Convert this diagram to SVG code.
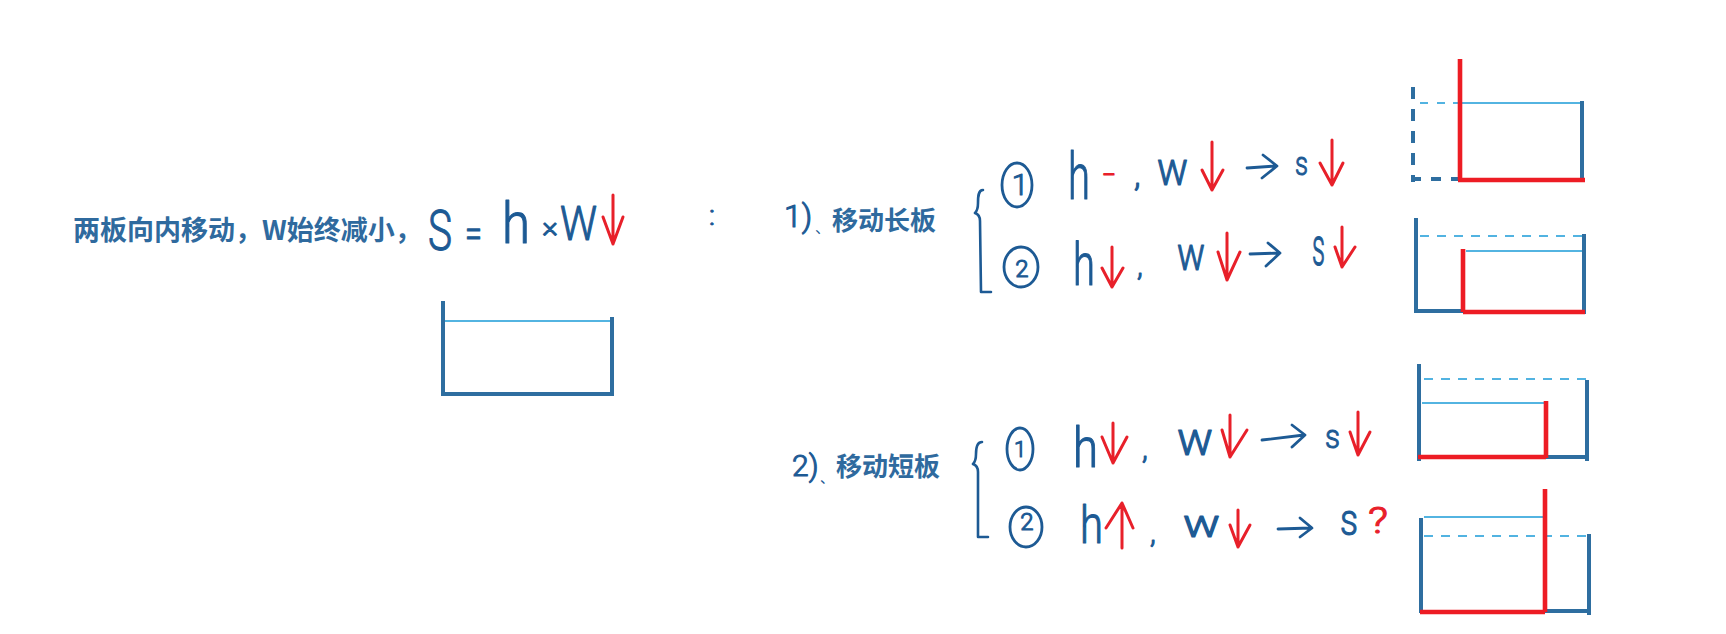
<svg xmlns="http://www.w3.org/2000/svg" width="1726" height="634" viewBox="0 0 1726 634">
<style>
.bold{font-family:"Noto Sans CJK SC","Noto Sans",sans-serif;font-weight:700;fill:#2f6a9e}
.hw{font-family:Roboto,"Open Sans","DejaVu Sans",sans-serif;font-weight:300;fill:#1d5a94;stroke:#1d5a94;stroke-width:1.1;stroke-linejoin:round}
.hwr{font-family:Roboto,"Open Sans","DejaVu Sans",sans-serif;font-weight:300;fill:#e8202a;stroke:#e8202a;stroke-width:1.1;stroke-linejoin:round}
.cjk{font-family:"Noto Sans CJK SC",sans-serif;font-weight:400;fill:#1d5a94}
.circ{fill:none;stroke:#1d5a94;stroke-width:2.8}
.rarr{fill:none;stroke:#e8202a;stroke-width:3;stroke-linecap:round;stroke-linejoin:round}
.barr{fill:none;stroke:#1d5a94;stroke-width:2.8;stroke-linecap:round;stroke-linejoin:round}
.wall{stroke:#2e6ea0;stroke-width:4;fill:none}
.red{stroke:#ed1c24;stroke-width:4.6;fill:none}
.water{stroke:#1a9bd7;stroke-width:1.5;fill:none}
.wdash{stroke:#1a9bd7;stroke-width:1.5;fill:none;stroke-dasharray:9 8}
.brace{fill:none;stroke:#1d5a94;stroke-width:2.6;stroke-linecap:round;stroke-linejoin:round}
</style>
<rect width="1726" height="634" fill="#ffffff"/>

<g id="title">
<text class="bold" x="73" y="240" font-size="27">两板向内移动，W始终减小，</text>
<text class="hw" x="428" y="250" font-size="56" textLength="24" lengthAdjust="spacingAndGlyphs">S</text>
<text class="hw" x="465" y="247" font-size="40" textLength="17" lengthAdjust="spacingAndGlyphs">=</text>
<text class="hw" x="502" y="243" font-size="58" textLength="28" lengthAdjust="spacingAndGlyphs">h</text>
<text class="hw" x="542" y="237" font-size="30" textLength="16" lengthAdjust="spacingAndGlyphs">×</text>
<text class="hw" x="560" y="240" font-size="49" textLength="37" lengthAdjust="spacingAndGlyphs">W</text>
<text class="hw" x="709" y="225" font-size="28">:</text>
</g>

<g id="main-container">
<line class="water" x1="445" y1="321" x2="610" y2="321"/>
<path class="wall" d="M443 301 L443 394 L612 394 L612 317"/>
</g>

<g id="label-long">
<text class="hw" x="784" y="227" font-size="32">1)</text>
<text class="cjk" x="815" y="233" font-size="15">、</text>
<text class="bold" x="832" y="230" font-size="26">移动长板</text>
<path class="brace" d="M983 190 C978 190 978 197 978 203 C978 209 977 211 975 213 C978 214 980 216 980 221 L981 292 L991 292"/>
</g>

<g id="label-short">
<text class="hw" x="792" y="476" font-size="30">2)</text>
<text class="cjk" x="820" y="483" font-size="14">、</text>
<text class="bold" x="836" y="476" font-size="26">移动短板</text>
<path class="brace" d="M982 442 C977 442 976 448 976 454 C976 460 975 462 973 464 C976 465 978 467 978 472 L978 537 L988 537"/>
</g>

<g id="row1">
<ellipse class="circ" cx="1017" cy="185" rx="15" ry="22"/>
<text class="hw" x="1020" y="195" font-size="30" text-anchor="middle">1</text>
<text class="hw" x="1068" y="199" font-size="64" textLength="22" lengthAdjust="spacingAndGlyphs">h</text>
<text class="hwr" x="1103" y="184" font-size="30" textLength="12" lengthAdjust="spacingAndGlyphs">-</text>
<text class="hw" x="1134" y="186" font-size="34">,</text>
<text class="hw" x="1157" y="185" font-size="47" textLength="31" lengthAdjust="spacingAndGlyphs">w</text>
<text class="hw" x="1295" y="175" font-size="34" textLength="13" lengthAdjust="spacingAndGlyphs">s</text>
</g>

<g id="row2">
<ellipse class="circ" cx="1021" cy="267" rx="17" ry="20"/>
<text class="hw" x="1022" y="277" font-size="24" text-anchor="middle">2</text>
<text class="hw" x="1073" y="285" font-size="59" textLength="22" lengthAdjust="spacingAndGlyphs">h</text>
<text class="hw" x="1137" y="276" font-size="30">,</text>
<text class="hw" x="1177" y="270" font-size="47" textLength="28" lengthAdjust="spacingAndGlyphs">w</text>
<text class="hw" x="1312" y="265" font-size="51" textLength="13" lengthAdjust="spacingAndGlyphs">s</text>
</g>

<g id="row3">
<ellipse class="circ" cx="1020" cy="449" rx="13" ry="21"/>
<text class="hw" x="1020" y="457" font-size="22" text-anchor="middle">1</text>
<text class="hw" x="1073" y="467" font-size="55" textLength="25" lengthAdjust="spacingAndGlyphs">h</text>
<text class="hw" x="1142" y="459" font-size="30">,</text>
<text class="hw" x="1177" y="455" font-size="47" textLength="36" lengthAdjust="spacingAndGlyphs">w</text>
<text class="hw" x="1325" y="448" font-size="34" textLength="15" lengthAdjust="spacingAndGlyphs">s</text>
</g>

<g id="row4">
<ellipse class="circ" cx="1026" cy="527" rx="16" ry="20"/>
<text class="hw" x="1027" y="530" font-size="24" text-anchor="middle">2</text>
<text class="hw" x="1080" y="543" font-size="51" textLength="23" lengthAdjust="spacingAndGlyphs">h</text>
<text class="hw" x="1150" y="543" font-size="30">,</text>
<text class="hw" x="1183" y="537" font-size="38" textLength="37" lengthAdjust="spacingAndGlyphs">w</text>
<text class="hw" x="1340" y="535" font-size="44" textLength="18" lengthAdjust="spacingAndGlyphs">s</text>
<text class="hwr" x="1368" y="533" font-size="37" textLength="20" lengthAdjust="spacingAndGlyphs">?</text>
</g>

<g id="connectors">
<path class="rarr" d="M613 195 L613 244 M603 217 L613 244 L623 217"/>
<path class="rarr" d="M1212 142 L1212 190 M1202 170 L1212 190 L1223 170"/>
<path class="rarr" d="M1332 140 L1332 185 M1320 163 L1332 185 L1343 163"/>
<path class="rarr" d="M1112 247 L1112 287 M1102 268 L1112 287 L1123 268"/>
<path class="rarr" d="M1227 233 L1227 280 M1218 252 L1227 280 L1240 252"/>
<path class="rarr" d="M1342 227 L1342 267 M1335 247 L1342 267 L1355 247"/>
<path class="rarr" d="M1113 423 L1113 463 M1102 437 L1113 463 L1127 437"/>
<path class="rarr" d="M1230 415 L1230 457 M1222 430 L1230 457 L1247 430"/>
<path class="rarr" d="M1358 412 L1358 455 M1350 432 L1358 455 L1370 432"/>
<path class="rarr" d="M1122 548 L1122 503 M1106 528 L1122 503 L1133 528"/>
<path class="rarr" d="M1238 510 L1238 547 M1230 525 L1238 547 L1250 525"/>
<path class="barr" d="M1247 168 L1276 166 M1263 155 L1277 166 L1262 178"/>
<path class="barr" d="M1250 254 L1279 253 M1268 243 L1280 253 L1266 266"/>
<path class="barr" d="M1262 440 L1304 435 M1292 425 L1305 435 L1292 447"/>
<path class="barr" d="M1278 529 L1311 528 M1300 518 L1312 528 L1300 537"/>
</g>

<g id="fig1">
<line class="wall" x1="1413" y1="87" x2="1413" y2="182" stroke-dasharray="12 10"/>
<line class="wall" x1="1411" y1="179" x2="1460" y2="179" stroke-dasharray="10 10"/>
<line class="water" x1="1420" y1="103" x2="1447" y2="103" stroke-dasharray="8 9"/>
<line class="water" x1="1453" y1="103" x2="1582" y2="103"/>
<line class="wall" x1="1582" y1="101" x2="1582" y2="181"/>
<line class="red" x1="1460" y1="59" x2="1460" y2="180"/>
<line class="red" x1="1458" y1="180" x2="1585" y2="180"/>
</g>

<g id="fig2">
<line class="wdash" x1="1420" y1="236" x2="1584" y2="236"/>
<line class="water" x1="1466" y1="251" x2="1584" y2="251"/>
<path class="wall" d="M1416 218 L1416 313 M1416 311 L1463 311"/>
<line class="wall" x1="1584" y1="234" x2="1584" y2="314"/>
<line class="red" x1="1463" y1="249" x2="1463" y2="312"/>
<line class="red" x1="1463" y1="312" x2="1585" y2="312"/>
</g>

<g id="fig3">
<line class="wdash" x1="1424" y1="379" x2="1589" y2="379"/>
<line class="water" x1="1422" y1="403" x2="1545" y2="403"/>
<line class="wall" x1="1419" y1="364" x2="1419" y2="461"/>
<line class="wall" x1="1587" y1="380" x2="1587" y2="461"/>
<line class="wall" x1="1546" y1="457" x2="1587" y2="457"/>
<line class="red" x1="1546" y1="401" x2="1546" y2="458"/>
<line class="red" x1="1418" y1="457" x2="1546" y2="457"/>
</g>

<g id="fig4">
<line class="water" x1="1424" y1="517" x2="1545" y2="517"/>
<line class="wdash" x1="1424" y1="536" x2="1590" y2="536"/>
<line class="wall" x1="1421" y1="518" x2="1421" y2="613"/>
<line class="wall" x1="1545" y1="611" x2="1590" y2="611"/>
<line class="wall" x1="1589" y1="534" x2="1589" y2="615"/>
<line class="red" x1="1545" y1="489" x2="1545" y2="612"/>
<line class="red" x1="1420" y1="612" x2="1545" y2="612"/>
</g>
</svg>
